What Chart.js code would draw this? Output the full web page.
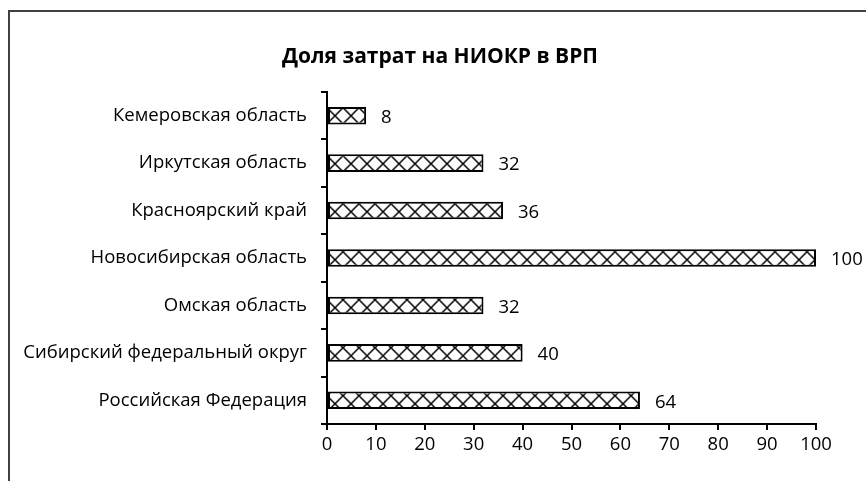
<!DOCTYPE html>
<html>
<head>
<meta charset="utf-8">
<script src="https://cdn.jsdelivr.net/npm/chart.js@4"></script>
<style>
  html, body { margin: 0; padding: 0; background: #fff; }
  body { width: 866px; height: 481px; position: relative; overflow: hidden; }
  #frame { position: absolute; left: 8px; top: 10px; width: 900px; height: 500px;
           border-top: 2px solid #404040; border-left: 2px solid #404040; }
  #wrap { position: absolute; left: 0; top: 0; width: 866px; height: 481px; }
</style>
</head>
<body>
<div id="frame"></div>
<div id="wrap"><canvas id="chart" width="866" height="481"></canvas></div>
<script>
const regions = [
  'Кемеровская область',
  'Иркутская область',
  'Красноярский край',
  'Новосибирская область',
  'Омская область',
  'Сибирский федеральный округ',
  'Российская Федерация'
];
const shares = [8, 32, 36, 100, 32, 40, 64];
const chartTitle = 'Доля затрат на НИОКР в ВРП';

const FONT = '"Open Sans"';

// cross hatch like the excel pattern fill
function makeHatch(ctx) {
  const c = document.createElement('canvas');
  c.width = 16; c.height = 16;
  const g = c.getContext('2d');
  g.fillStyle = '#fff';
  g.fillRect(0, 0, 16, 16);
  g.strokeStyle = '#000';
  g.lineWidth = 1.5;
  g.beginPath();
  g.moveTo(0, 0); g.lineTo(16, 16);
  g.moveTo(16, 0); g.lineTo(0, 16);
  g.stroke();
  return ctx.createPattern(c, 'repeat');
}

const valueLabels = {
  id: 'valueLabels',
  afterDatasetsDraw(chart) {
    const ctx = chart.ctx;
    const meta = chart.getDatasetMeta(0);
    ctx.save();
    ctx.fillStyle = '#000';
    ctx.font = '18.5px ' + FONT;
    ctx.textAlign = 'left';
    ctx.textBaseline = 'middle';
    meta.data.forEach((bar, i) => {
      ctx.fillText(String(shares[i]), bar.x + 15, bar.y + 2);
    });
    ctx.restore();
  }
};

const titlePlugin = {
  id: 'titlePlugin',
  afterDraw(chart) {
    const ctx = chart.ctx;
    ctx.save();
    ctx.fillStyle = '#000';
    ctx.font = 'bold 21px ' + FONT;
    ctx.textAlign = 'center';
    ctx.textBaseline = 'middle';
    ctx.fillText(chartTitle, 440, 57);
    ctx.restore();
  }
};

const canvas = document.getElementById('chart');
const hatch = makeHatch(canvas.getContext('2d'));

new Chart(canvas, {
  type: 'bar',
  data: {
    labels: regions,
    datasets: [{
      data: shares,
      backgroundColor: (c) => {
        const y = c.chart.scales.y;
        if (y && hatch.setTransform) {
          const cy = y.getPixelForValue(c.dataIndex);
          hatch.setTransform(new DOMMatrix().translate(327, cy - 8));
        }
        return hatch;
      },
      borderColor: '#000',
      borderWidth: 2,
      borderSkipped: false,
      barPercentage: 0.37,
      categoryPercentage: 1
    }]
  },
  plugins: [valueLabels, titlePlugin],
  options: {
    indexAxis: 'y',
    responsive: false,
    animation: false,
    layout: { padding: { left: 0, right: 50, top: 92, bottom: 0 } },
    plugins: {
      legend: { display: false },
      tooltip: { enabled: false },
      title: { display: false }
    },
    scales: {
      x: {
        min: 0,
        max: 100,
        ticks: { stepSize: 10, color: '#000', font: { family: FONT, size: 18.5 }, padding: 4 },
        grid: { drawOnChartArea: false, drawTicks: true, tickLength: 6, color: '#000', lineWidth: 2 },
        border: { color: '#000', width: 2 },
        afterFit: (s) => { s.height = 57; }
      },
      y: {
        ticks: { color: '#000', font: { family: FONT, size: 18.5 }, padding: 14 },
        grid: { drawOnChartArea: false, drawTicks: true, tickLength: 6, color: '#000', lineWidth: 2, offset: true },
        border: { color: '#000', width: 2 },
        afterFit: (s) => { s.width = 327; }
      }
    }
  }
});
</script>
</body>
</html>
